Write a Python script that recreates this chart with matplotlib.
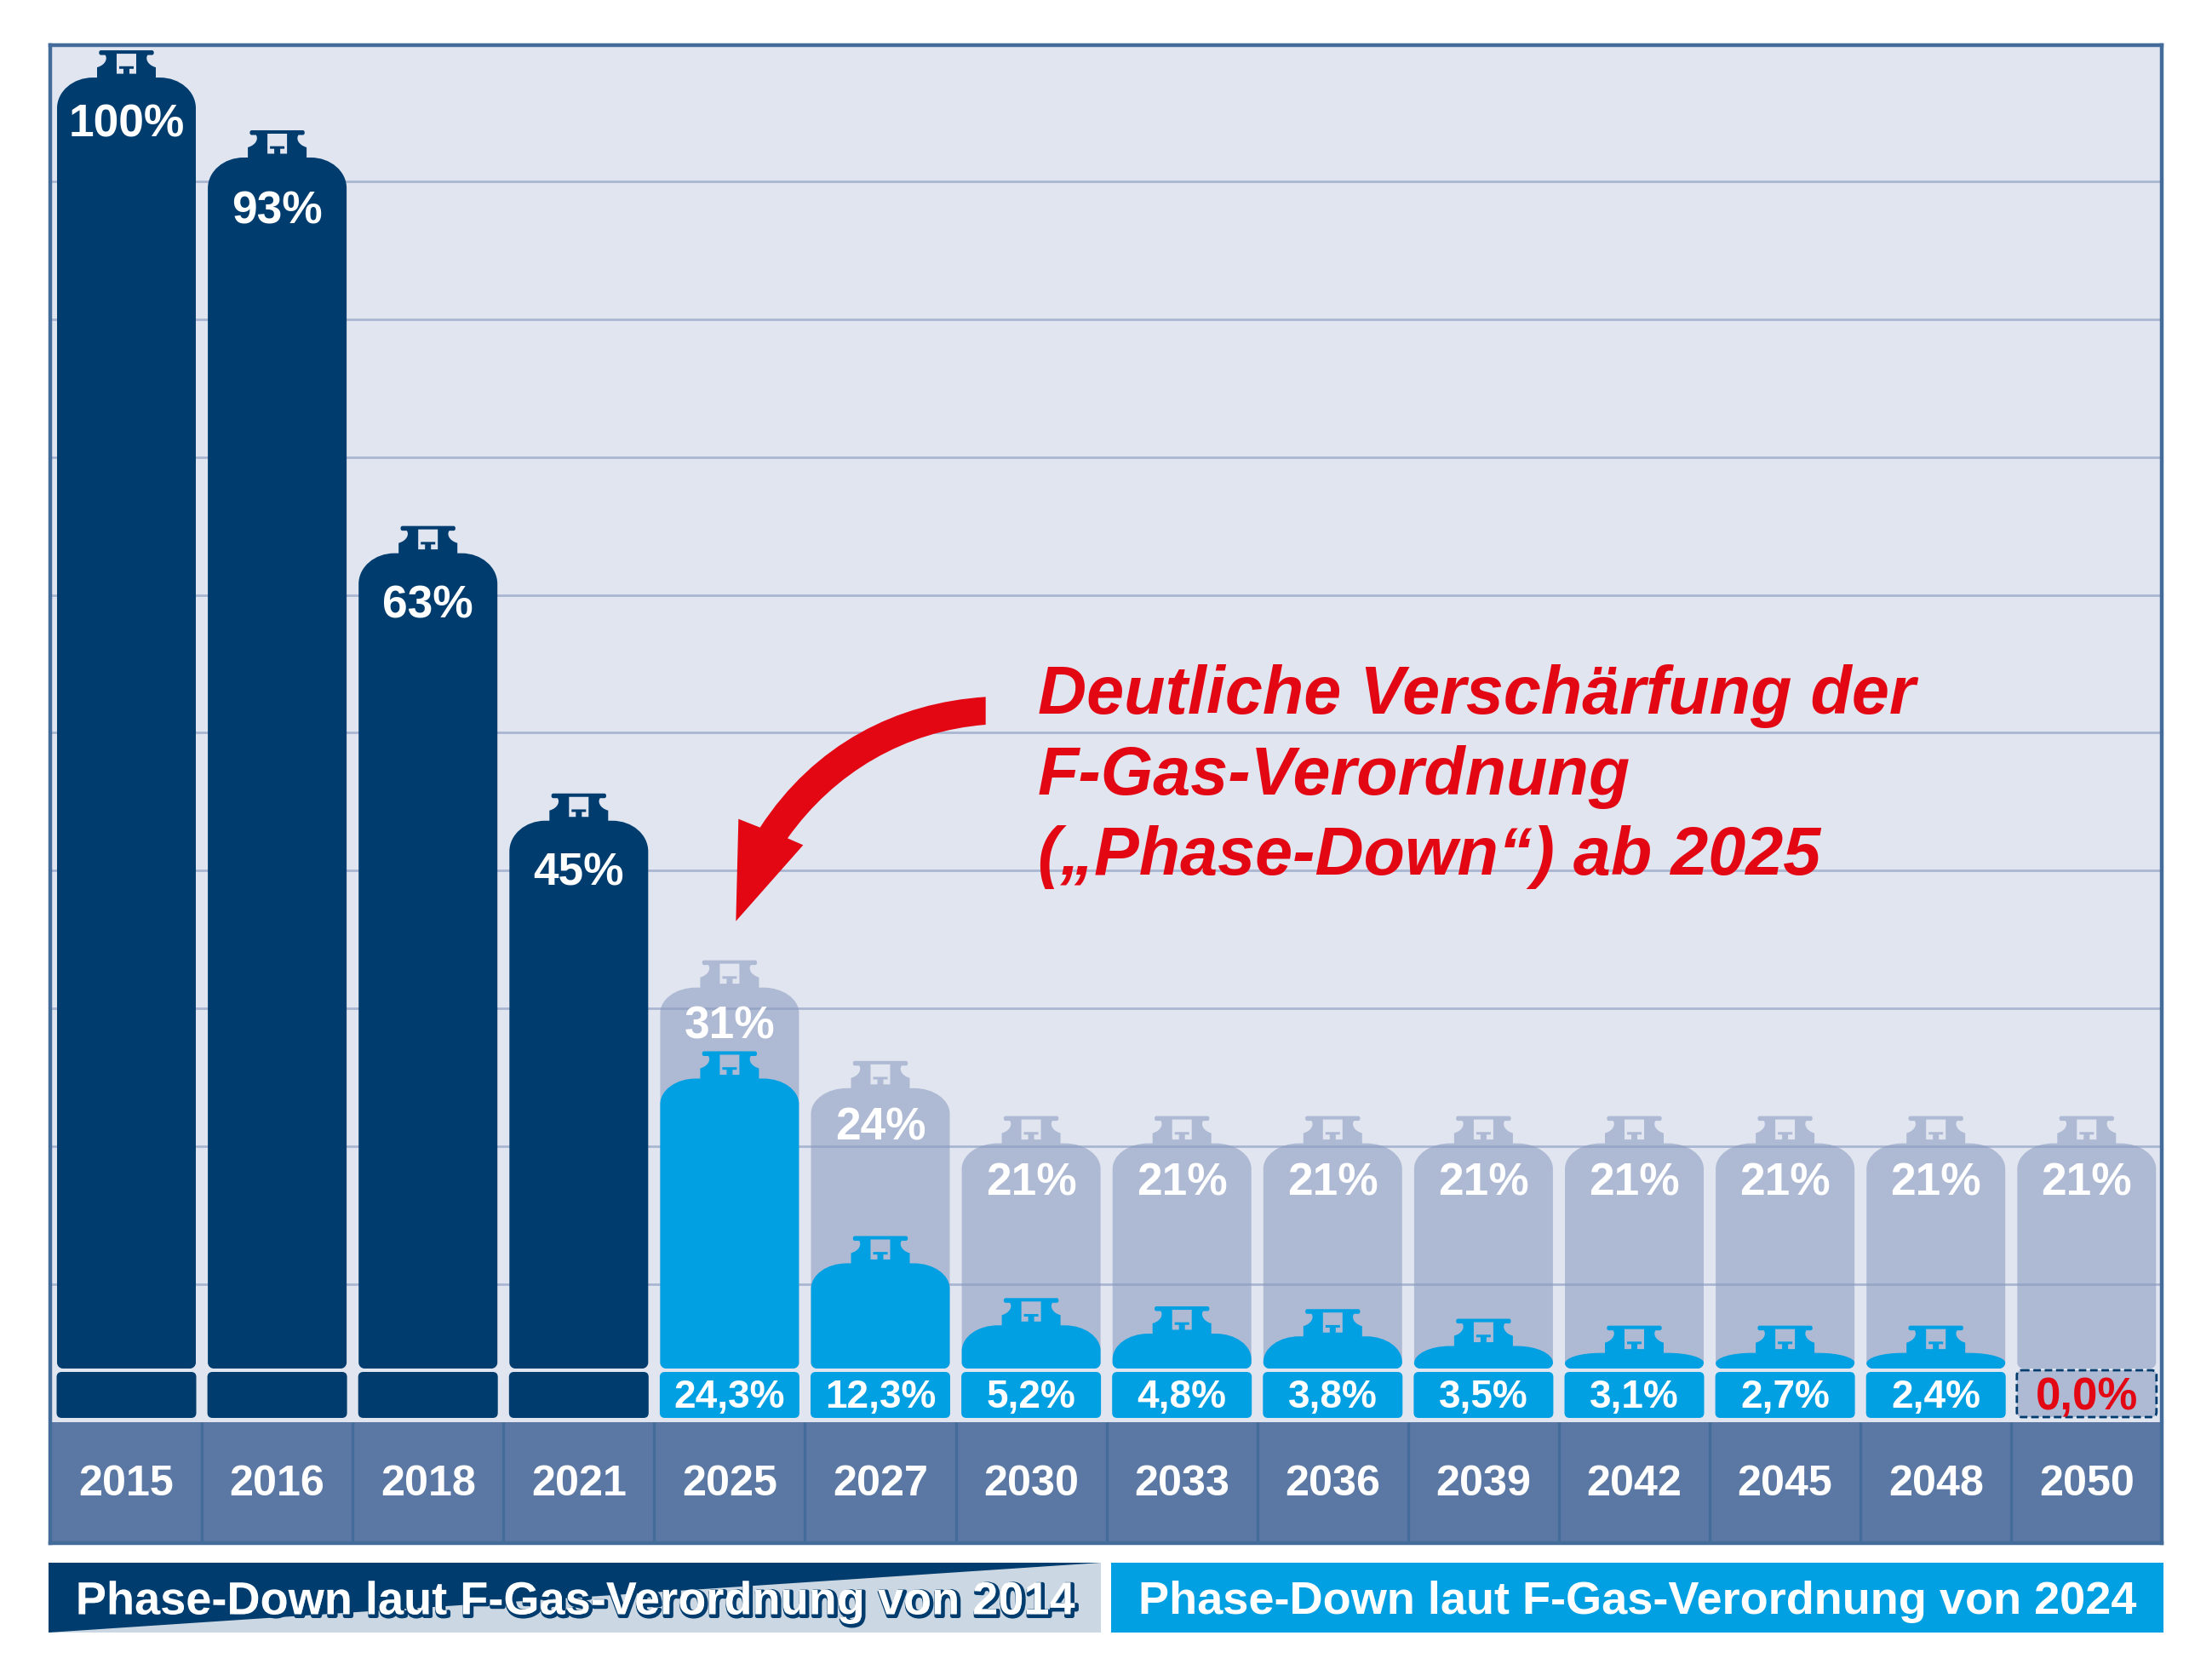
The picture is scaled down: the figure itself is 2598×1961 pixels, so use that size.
import matplotlib
matplotlib.use("Agg")
import matplotlib.pyplot as plt
import matplotlib.patheffects as pe
from matplotlib.path import Path
from matplotlib.patches import PathPatch, Polygon, Rectangle

# ---- data ----
years = [2015, 2016, 2018, 2021, 2025, 2027, 2030, 2033, 2036, 2039, 2042, 2045, 2048, 2050]
labels_2014 = [100, 93, 63, 45, 31, 24, 21, 21, 21, 21, 21, 21, 21, 21]
drawn_2014 = [99.5, 93.7, 65.0, 45.6, 33.5, 26.2, 22.2, 22.2, 22.2, 22.2, 22.2, 22.2, 22.2, 22.2]
labels_2024 = [24.3, 12.3, 5.2, 4.8, 3.8, 3.5, 3.1, 2.7, 2.4, 0.0]
drawn_2024 = [26.9, 13.5, 9.0, 8.4, 8.2, 7.5, 7.0, 7.0, 7.0, 0.0]
legend_2014 = "Phase-Down laut F-Gas-Verordnung von 2014"
legend_2024 = "Phase-Down laut F-Gas-Verordnung von 2024"
callout = ["Deutliche Verschärfung der", "F-Gas-Verordnung", "(„Phase-Down“) ab 2025"]

# ---- style ----
DARK, BLUE, RED = "#003C6E", "#00A0E3", "#E30613"
PANEL, BORDER, BAND, GRID = "#E1E5F0", "#446C9A", "#5A78A3", "#A9B5D1"
FONT = "Liberation Sans"
W, H = 2598, 1961
L, R, T, B = 59, 2539, 53, 1812
X0, PITCH = 148.5, 177.1
Y0, UNIT = 1670, 16.19
BOTTLE_BASE = (Y0 - 1607) / UNIT
N_DARK = 4

fig = plt.figure(figsize=(W / 100, H / 100), dpi=100, facecolor="white")
ax = fig.add_axes([L / W, 1 - B / H, (R - L) / W, (B - T) / H], facecolor=PANEL)
ax.set_xlim((L - X0) / PITCH, (R - X0) / PITCH)
ax.set_ylim((Y0 - B) / UNIT, (Y0 - T) / UNIT)


def xd(px):
    return (px - X0) / PITCH


def yd(py):
    return (Y0 - py) / UNIT


M, C4, LN, CP = Path.MOVETO, Path.CURVE4, Path.LINETO, Path.CLOSEPOLY
K = 0.5523


def bottle(cat, top, base=BOTTLE_BASE, ryf=32):
    """Path of a gas bottle: cat/top/base in data units, fittings in pixels."""
    sx, sy = 1 / PITCH, 1 / UNIT
    hw = 81.5
    total = (top - base) / sy
    bodyh = total - 32
    ry = min(ryf, bodyh - 6)
    rx = 42
    rb = min(7, bodyh / 2)
    v = [(-34.5, 32), (-hw + rx, 32)]
    c = [M, LN]
    v += [(-hw + rx - rx * K, 32), (-hw, 32 + ry - ry * K), (-hw, 32 + ry)]
    c += [C4] * 3
    if total - rb > 32 + ry:
        v += [(-hw, total - rb)]
        c += [LN]
    v += [(-hw, total - rb + rb * K), (-hw + rb - rb * K, total), (-hw + rb, total)]
    c += [C4] * 3
    v += [(hw - rb, total)]
    c += [LN]
    v += [(hw - rb + rb * K, total), (hw, total - rb + rb * K), (hw, total - rb)]
    c += [C4] * 3
    if total - rb > 32 + ry:
        v += [(hw, 32 + ry)]
        c += [LN]
    v += [(hw, 32 + ry - ry * K), (hw - rx + rx * K, 32), (hw - rx, 32)]
    c += [C4] * 3
    # right side of the valve, flange, left side of the valve
    v += [(34.5, 32), (34.5, 20)]
    c += [LN, LN]
    v += [(24, 17), (22, 9), (25, 5.5)]
    c += [C4] * 3
    v += [(30, 5.5), (33, 5.5), (33, 0), (30, 0), (-30, 0), (-33, 0), (-33, 5.5), (-30, 5.5), (-25, 5.5)]
    c += [LN, C4, C4, C4, LN, C4, C4, C4, LN]
    v += [(-22, 9), (-24, 17), (-34.5, 20), (-34.5, 32)]
    c += [C4, C4, C4, LN]
    # window with T-shaped pin (opposite winding, so it stays open)
    hole = [(-11.5, 4), (11.5, 4), (11.5, 27.5), (3.5, 27.5), (3.5, 21.7), (8.5, 21.7), (8.5, 18.7),
            (-8.5, 18.7), (-8.5, 21.7), (-3.5, 21.7), (-3.5, 27.5), (-11.5, 27.5), (-11.5, 4)]
    hc = [M] + [LN] * 11 + [CP]
    verts = [(cat + x * sx, top - y * sy) for x, y in v + hole]
    return Path(verts, c + hc)


def rounded_box(cat, py0, py1, hw=82, r=6):
    a, b = -hw, hw
    v = [(a + r, py0), (b - r, py0), (b, py0), (b, py0 + r), (b, py1 - r), (b, py1), (b - r, py1),
         (a + r, py1), (a, py1), (a, py1 - r), (a, py0 + r), (a, py0), (a + r, py0), (a + r, py0)]
    c = [M, LN, Path.CURVE3, Path.CURVE3, LN, Path.CURVE3, Path.CURVE3, LN, Path.CURVE3, Path.CURVE3,
         LN, Path.CURVE3, Path.CURVE3, CP]
    return Path([(cat + x / PITCH, yd(y)) for x, y in v], c)


# gridlines, axes frame
ax.set_yticks(range(10, 100, 10))
ax.set_axisbelow("line")
ax.grid(axis="y", color=GRID, lw=2.0)
ax.grid(axis="x", visible=False)
ax.tick_params(axis="y", length=0, labelleft=False)
ax.set_xticks(range(len(years)), [str(y) for y in years], fontsize=36.2, fontweight="bold",
              family=FONT, color="white")
ax.tick_params(axis="x", length=0, pad=-66)
for s in ax.spines.values():
    s.set_color(BORDER)
    s.set_linewidth(3.2)
    s.set_zorder(8)

# year band
ax.add_patch(Rectangle((xd(L), yd(B)), (R - L) / PITCH, -yd(B), fc=BAND, ec="none", zorder=1.2))
ax.vlines([i + 0.5 for i in range(len(years) - 1)], yd(B), 0, color=BORDER, lw=2.4, zorder=1.3)

# bottles
label_offset = [82, 90, 88, 88, 72, 73, 73, 73, 73, 73, 73, 73, 73, 73]
for i, (lab, top) in enumerate(zip(labels_2014, drawn_2014)):
    if i < N_DARK:
        ax.add_patch(PathPatch(bottle(i, top, ryf=36), fc=DARK, ec="none", zorder=3))
        ax.add_patch(PathPatch(rounded_box(i, 1611, 1665), fc=DARK, ec="none", zorder=3))
    else:
        ax.add_patch(PathPatch(bottle(i, top, ryf=30), fc="#8C9DC1", alpha=0.6, ec="none", zorder=2))
    ypx = Y0 - top * UNIT + label_offset[i]
    ax.text(i, yd(ypx), f"{lab}%", color="white", fontsize=38.3, fontweight="bold", family=FONT,
            ha="center", va="center_baseline", zorder=6)

for j, (lab, top) in enumerate(zip(labels_2024, drawn_2024)):
    i = N_DARK + j
    if lab > 0:
        ax.add_patch(PathPatch(bottle(i, top, ryf=30), fc=BLUE, ec="none", zorder=3))
        ax.add_patch(PathPatch(rounded_box(i, 1611, 1665), fc=BLUE, ec="none", zorder=3))
        col, fs = "white", 33
    else:
        ax.add_patch(PathPatch(rounded_box(i, 1609, 1664), fc="#AEBAD4", ec=DARK, lw=2.0,
                               ls=(0, (3.2, 1.6)), zorder=3))
        col, fs = RED, 38
    ax.text(i, yd(1636), f"{lab:.1f}%".replace(".", ","), color=col, fontsize=fs, fontweight="bold",
            family=FONT, ha="center", va="center_baseline", zorder=6)

# callout arrow
P = lambda x, y: (xd(800 + x / 3), yd(740 + y / 3))
arrow = Path(
    [P(1073, 235), P(760, 255), P(470, 400), P(278, 695), P(202, 665), P(193, 1025), P(430, 757),
     P(375, 733), P(540, 500), P(790, 355), P(1073, 333), P(1073, 235)],
    [M, C4, C4, C4, LN, LN, LN, LN, C4, C4, C4, CP])
ax.add_patch(PathPatch(arrow, fc=RED, ec="none", zorder=5))

# callout text
for line, base in zip(callout, (838, 933, 1027)):
    ax.text(xd(1219), yd(base), line, color=RED, fontsize=57, fontweight="bold", fontstyle="italic",
            family=FONT, ha="left", va="baseline", zorder=6)

# legend bars (figure level, below the axes)
leg = fig.add_axes([0, 0, 1, 1], facecolor="none")
leg.set_xlim(0, W)
leg.set_ylim(H, 0)
leg.axis("off")
leg.add_patch(Rectangle((57, 1835), 1236, 82, fc="#CBD7E2", ec="none"))
leg.add_patch(Polygon([(57, 1835), (1293, 1835), (57, 1917)], fc=DARK, ec="none"))
leg.add_patch(Rectangle((1305, 1835), 1236, 82, fc=BLUE, ec="none"))
t = leg.text(675, 1876, legend_2014, color="white", fontsize=39, fontweight="bold", family=FONT,
             ha="center", va="center_baseline")
t.set_path_effects([pe.Stroke(linewidth=3.5, foreground=DARK, offset=(1.5, -1.5)), pe.Normal()])
leg.text(1923, 1876, legend_2024, color="white", fontsize=39, fontweight="bold", family=FONT,
         ha="center", va="center_baseline")

fig.savefig("out.png", dpi=100, facecolor="white")
